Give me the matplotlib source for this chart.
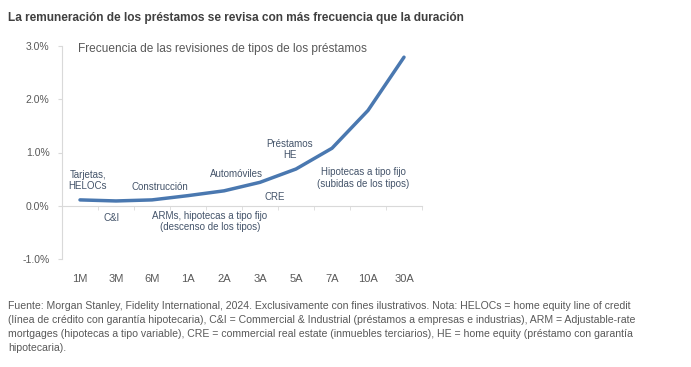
import matplotlib
matplotlib.use("Agg")
import matplotlib.pyplot as plt
import numpy as np

plt.rcParams['font.family'] = ['Liberation Sans', 'DejaVu Sans']

categories = ["1M", "3M", "6M", "1A", "2A", "3A", "5A", "7A", "10A", "30A"]
values = [0.11, 0.09, 0.11, 0.19, 0.28, 0.44, 0.69, 1.08, 1.79, 2.79]
y_ticks = [-1.0, 0.0, 1.0, 2.0, 3.0]

annotations = [
    ("Tarjetas,\nHELOCs", 0.22, 0.47),
    ("C&I", 0.89, -0.23),
    ("Construcción", 2.22, 0.36),
    ("ARMs, hipotecas a tipo fijo\n(descenso de los tipos)", 3.61, -0.30),
    ("Automóviles", 4.36, 0.60),
    ("CRE", 5.42, 0.17),
    ("Préstamos\nHE", 5.83, 1.06),
    ("Hipotecas a tipo fijo\n(subidas de los tipos)", 7.86, 0.52),
]

title = "La remuneración de los préstamos se revisa con más frecuencia que la duración"
subtitle = "Frecuencia de las revisiones de tipos de los préstamos"
footer = ("Fuente: Morgan Stanley, Fidelity International, 2024. Exclusivamente con fines ilustrativos. Nota: HELOCs = home equity line of credit\n"
          "(línea de crédito con garantía hipotecaria), C&I = Commercial & Industrial (préstamos a empresas e industrias), ARM = Adjustable-rate\n"
          "mortgages (hipotecas a tipo variable), CRE = commercial real estate (inmuebles terciarios), HE = home equity (préstamo con garantía\n"
          "hipotecaria).")

axis_col = "#d9d9d9"
tick_col = "#595959"
ann_col = "#44546a"
line_col = "#4a78b0"

fig = plt.figure(figsize=(6.91, 3.67), dpi=100)
ax = fig.add_axes([62/691, 1-259/367, 360/691, 213/367])

x = np.arange(len(categories))
ax.plot(x, values, color=line_col, lw=2.5, solid_capstyle='round', solid_joinstyle='round')

ax.set_xlim(-0.5, len(categories)-0.5)
ax.set_ylim(-1.0, 3.0)
ax.set_yticks(y_ticks)
ax.set_yticklabels([f"{v:.1f}%" for v in y_ticks])

for s in ['top', 'right']:
    ax.spines[s].set_visible(False)
ax.spines['left'].set_color(axis_col)
ax.spines['bottom'].set_color(axis_col)
ax.spines['bottom'].set_position(('data', 0))

ax.set_xticks(x)
ax.set_xticklabels(categories)
ax.set_xticks(np.arange(-0.5, len(categories)), minor=True)
ax.tick_params(axis='x', which='major', length=0, pad=49, labelsize=8, labelcolor=tick_col)
ax.tick_params(axis='x', which='minor', length=3, color=axis_col, direction='out')
ax.tick_params(axis='y', length=3, color=axis_col, labelsize=7.5, labelcolor=tick_col, pad=6)

for txt, xd, yd in annotations:
    ax.text(xd, yd, txt, ha='center', va='center', fontsize=7, color=ann_col, linespacing=1.15)

fig.text(8/691, 1-18/367, title, fontsize=8.6, fontweight='bold', color="#404040", va='center', ha='left')
fig.text(78/691, 1-49/367, subtitle, fontsize=8.6, color=tick_col, va='center', ha='left')
fig.text(8/691, 1-301/367, footer, fontsize=7.6, color=tick_col, va='top', ha='left', linespacing=1.5)

fig.savefig("out.png", dpi=100)
